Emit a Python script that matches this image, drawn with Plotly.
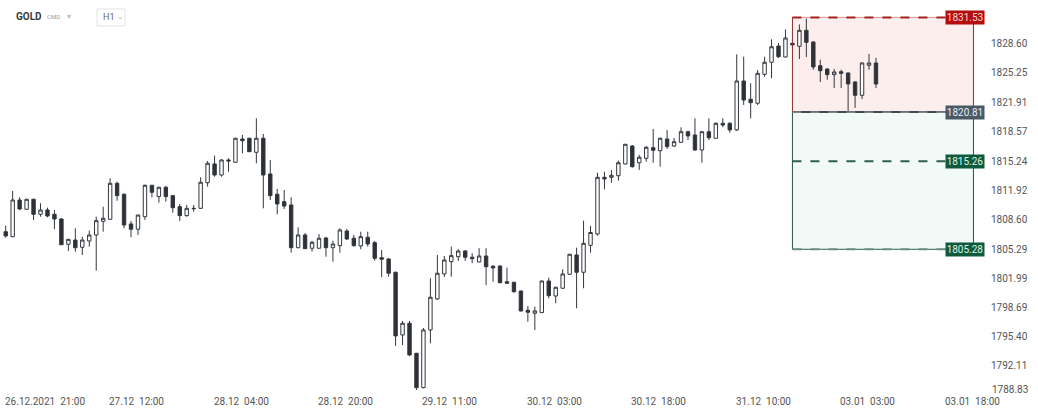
import plotly.graph_objects as go

# ---- data (GOLD, H1) ----
open_ = [1807.27,1806.71,1810.86,1809.81,1810.94,1809.24,1809.73,1809.24,1808.71,1805.85,
         1806.33,1805.51,1806.22,1806.90,1808.45,1808.68,1812.75,1811.51,1808.15,1807.55,
         1808.97,1812.53,1811.24,1812.30,1811.35,1810.10,1809.09,1809.92,1809.92,1812.82,
         1814.94,1813.69,1815.39,1815.13,1817.77,1817.85,1816.26,1817.85,1813.81,1811.51,
         1810.67,1810.30,1805.46,1806.90,1805.40,1805.40,1806.56,1805.46,1805.69,1807.35,
         1806.53,1805.66,1806.64,1806.03,1804.33,1804.18,1802.68,1795.58,1796.91,1793.51,
         1789.62,1796.15,1799.66,1802.49,1803.88,1804.44,1805.09,1804.38,1803.84,1804.52,
         1803.36,1803.39,1801.61,1801.55,1800.56,1798.38,1798.04,1798.11,1801.69,1799.99,
         1800.87,1802.45,1804.64,1802.68,1805.73,1807.01,1813.43,1813.43,1813.61,1814.94,
         1816.97,1815.08,1815.58,1816.78,1816.44,1817.77,1816.97,1817.39,1818.59,1818.22,
         1816.52,1818.59,1817.85,1819.54,1819.54,1818.79,1824.33,1822.26,1821.81,1825.09,
         1826.45,1828.29,1827.05,1828.60,1828.26,1830.07,1828.75,1826.06,1825.69,1825.05,
         1825.38,1825.24,1824.22,1822.71,1826.11,1826.37]
high = [1807.95,1811.88,1811.17,1810.99,1811.00,1810.49,1809.99,1809.73,1808.80,1806.45,
        1807.66,1806.71,1807.39,1808.97,1810.10,1813.32,1812.93,1811.60,1808.49,1809.20,
        1812.60,1812.56,1812.35,1812.45,1811.43,1810.41,1810.30,1810.30,1813.43,1815.28,
        1815.88,1815.47,1815.58,1817.90,1818.22,1817.90,1820.11,1818.33,1815.39,1812.11,
        1811.99,1811.17,1807.77,1807.13,1806.22,1807.01,1806.67,1806.26,1807.66,1807.58,
        1806.90,1807.27,1807.27,1806.22,1805.20,1804.30,1802.75,1797.17,1797.17,1793.55,
        1796.37,1802.00,1804.64,1804.52,1805.58,1805.28,1805.20,1804.83,1805.40,1805.40,
        1803.50,1803.45,1803.20,1801.60,1800.60,1798.86,1798.79,1801.75,1802.07,1801.05,
        1803.02,1804.75,1805.46,1808.52,1807.92,1813.95,1814.07,1814.26,1815.31,1817.20,
        1817.09,1815.96,1816.97,1818.90,1817.92,1818.79,1817.88,1819.09,1818.70,1820.11,
        1818.67,1820.11,1819.66,1820.11,1819.66,1827.35,1827.08,1824.07,1825.58,1827.08,
        1829.05,1828.63,1830.16,1828.63,1830.73,1831.40,1828.80,1826.74,1825.75,1825.69,
        1825.61,1825.30,1824.30,1826.45,1827.39,1826.94]
low = [1806.60,1806.65,1809.73,1809.75,1808.60,1808.97,1808.90,1807.58,1805.75,1805.09,
       1805.01,1804.64,1805.58,1802.86,1807.27,1808.60,1810.78,1807.66,1806.64,1806.90,
       1808.60,1811.17,1810.56,1810.67,1809.42,1808.49,1808.97,1809.54,1809.85,1812.37,
       1813.50,1813.50,1814.07,1815.08,1816.15,1816.30,1815.02,1809.92,1810.86,1809.24,
       1809.84,1804.90,1805.40,1805.31,1805.01,1805.35,1804.44,1803.88,1804.90,1806.33,
       1805.58,1805.28,1805.58,1803.99,1802.11,1802.18,1794.34,1794.45,1793.20,1789.36,
       1789.55,1794.64,1799.55,1802.15,1802.18,1803.96,1803.96,1803.70,1803.81,1801.24,
       1801.61,1801.43,1801.40,1800.36,1798.22,1797.09,1796.15,1798.07,1799.74,1799.17,
       1800.80,1802.40,1798.60,1800.87,1804.90,1806.82,1812.07,1812.82,1813.05,1814.90,
       1814.52,1814.26,1815.20,1815.08,1814.63,1816.64,1816.86,1817.35,1817.65,1816.45,
       1815.08,1817.65,1817.80,1819.09,1818.48,1818.67,1821.62,1820.11,1821.62,1824.82,
       1824.64,1826.94,1827.00,1828.30,1826.82,1827.05,1825.61,1824.22,1824.48,1823.54,
       1823.54,1820.81,1821.28,1822.29,1825.61,1823.54]
close = [1806.79,1810.86,1809.84,1810.94,1809.24,1809.73,1809.05,1808.71,1805.80,1806.41,
         1805.46,1806.33,1806.90,1808.52,1808.79,1812.75,1811.35,1808.03,1807.55,1809.16,
         1812.53,1811.73,1812.30,1811.24,1809.99,1809.09,1809.92,1809.88,1812.87,1815.02,
         1813.69,1815.39,1815.28,1817.85,1817.57,1816.33,1817.85,1813.69,1811.35,1810.41,
         1810.18,1805.46,1806.90,1805.35,1806.07,1806.53,1805.46,1805.88,1807.47,1806.45,
         1805.69,1806.71,1805.88,1804.26,1804.15,1802.57,1795.47,1796.91,1793.32,1789.62,
         1796.15,1799.85,1802.57,1804.07,1804.56,1805.09,1804.38,1804.22,1804.52,1803.31,
         1803.17,1801.50,1801.43,1800.48,1798.30,1798.15,1798.30,1801.69,1800.03,1800.98,
         1802.49,1804.72,1802.68,1805.96,1807.18,1813.43,1813.24,1813.66,1815.08,1817.17,
         1814.63,1815.70,1816.83,1816.49,1817.85,1816.90,1817.46,1818.59,1818.11,1816.52,
         1818.59,1817.91,1819.54,1819.35,1818.79,1824.33,1822.18,1821.88,1825.20,1826.45,
         1828.21,1827.08,1829.20,1828.41,1830.07,1828.71,1825.92,1825.50,1825.05,1825.35,
         1825.20,1823.99,1822.71,1826.37,1826.37,1823.99]

x_tick_idx = [0, 15, 30, 45, 60, 75, 90, 105, 120, 135]
x_tick_text = ["26.12.2021  21:00", "27.12  12:00", "28.12  04:00", "28.12  20:00",
               "29.12  11:00", "30.12  03:00", "30.12  18:00", "31.12  10:00",
               "03.01  03:00", "03.01  18:00"]
y_ticks = [1828.60, 1825.25, 1821.91, 1818.57, 1815.24, 1811.92, 1808.60, 1805.29,
           1801.99, 1798.69, 1795.40, 1792.11]
y_bottom_label = "1788.83"   # drawn lifted above the time axis, as in the source

# trade levels (take profit / entry / stops)
lvl_top = 1831.53
lvl_entry = 1820.81
lvl_mid = 1815.26
lvl_bottom = 1805.28
zone_start, zone_end = 113, 139

idx = list(range(len(open_)))

FONT = "Roboto, 'Open Sans', Arial, sans-serif"
fig = go.Figure()
fig.add_trace(go.Candlestick(
    x=idx, open=open_, high=high, low=low, close=close,
    increasing=dict(line=dict(color="#33373d", width=1), fillcolor="#ffffff"),
    decreasing=dict(line=dict(color="#33373d", width=1), fillcolor="#2d3035"),
    whiskerwidth=0, showlegend=False, hoverinfo="skip",
))

W_PLOT = 985.0
H_PLOT = 400.0
shapes = []
# zones
shapes.append(dict(type="rect", xref="x", yref="y", x0=zone_start, x1=zone_end,
                   y0=lvl_entry, y1=lvl_top, fillcolor="rgba(235,70,70,0.09)",
                   line=dict(width=0), layer="below"))
shapes.append(dict(type="rect", xref="x", yref="y", x0=zone_start, x1=zone_end,
                   y0=lvl_bottom, y1=lvl_entry, fillcolor="rgba(60,180,130,0.07)",
                   line=dict(width=0), layer="below"))
# borders
for xv in (zone_start, zone_end):
    shapes.append(dict(type="line", xref="x", yref="y", x0=xv, x1=xv, y0=lvl_entry, y1=lvl_top,
                       line=dict(color="#8e2a2a", width=1)))
    shapes.append(dict(type="line", xref="x", yref="y", x0=xv, x1=xv, y0=lvl_bottom, y1=lvl_entry,
                       line=dict(color="#24503f", width=1)))
# horizontal levels
shapes.append(dict(type="line", xref="x", yref="y", x0=zone_start, x1=zone_end, y0=lvl_top, y1=lvl_top,
                   line=dict(color="rgba(200,80,80,0.6)", width=1)))
shapes.append(dict(type="line", xref="x", yref="y", x0=zone_start, x1=zone_end, y0=lvl_top, y1=lvl_top,
                   line=dict(color="#a82020", width=2, dash="dash")))
shapes.append(dict(type="line", xref="x", yref="y", x0=zone_start, x1=zone_end, y0=lvl_entry, y1=lvl_entry,
                   line=dict(color="#3e4a55", width=2)))
shapes.append(dict(type="line", xref="x", yref="y", x0=zone_start, x1=zone_end, y0=lvl_entry, y1=lvl_entry,
                   line=dict(color="rgba(190,185,175,0.9)", width=1, dash="dash")))
shapes.append(dict(type="line", xref="x", yref="y", x0=zone_start, x1=zone_end, y0=lvl_mid, y1=lvl_mid,
                   line=dict(color="#2f5f4b", width=2, dash="dash")))
shapes.append(dict(type="line", xref="x", yref="y", x0=zone_start, x1=zone_end, y0=lvl_bottom, y1=lvl_bottom,
                   line=dict(color="#2f5f4b", width=1)))
shapes.append(dict(type="line", xref="x", yref="y", x0=zone_start, x1=zone_end, y0=lvl_bottom, y1=lvl_bottom,
                   line=dict(color="#6a917f", width=2, dash="dash")))
# H1 selector box (header)
shapes.append(dict(type="rect", xref="paper", yref="paper", x0=97 / W_PLOT, x1=125 / W_PLOT,
                   y0=1 - 26 / H_PLOT, y1=1 - 9 / H_PLOT, line=dict(color="#e3e3e3", width=1),
                   fillcolor="#ffffff"))

annotations = []
# level tags
tag_x = 964.5 / W_PLOT
for val, bg, fc in [(lvl_top, "#b50d0d", "#ffd9d9"), (lvl_entry, "#4b5866", "#e8eef3"),
                    (lvl_mid, "#0f5a3c", "#d9f5e8"), (lvl_bottom, "#0f5a3c", "#d9f5e8")]:
    annotations.append(dict(xref="paper", yref="y", x=tag_x, y=val, text=f"{val:.2f}",
                            showarrow=False, bgcolor=bg, borderpad=1, width=36, height=11,
                            font=dict(family=FONT, size=10, color=fc),
                            xanchor="center", yanchor="middle"))
# x labels (left aligned at candle)
for i, t in zip(x_tick_idx, x_tick_text):
    annotations.append(dict(xref="x", yref="paper", x=i, y=1 - 402 / H_PLOT,
                            text=t.replace("  ", "&nbsp;&nbsp;"),
                            showarrow=False, xanchor="left", yanchor="middle", xshift=-3,
                            font=dict(family=FONT, size=10, color="#555555")))
# bottom price label
annotations.append(dict(xref="paper", yref="paper", x=990 / W_PLOT, y=1 - 389 / H_PLOT,
                        text=y_bottom_label, showarrow=False, xanchor="left", yanchor="middle",
                        font=dict(family=FONT, size=10, color="#555555")))
# header
annotations.append(dict(xref="paper", yref="paper", x=14 / W_PLOT, y=1 - 17 / H_PLOT, text="<b>GOLD</b>",
                        showarrow=False, xanchor="left", yanchor="middle",
                        font=dict(family=FONT, size=10, color="#3a3a3a")))
annotations.append(dict(xref="paper", yref="paper", x=45 / W_PLOT, y=1 - 17 / H_PLOT, text="CMD",
                        showarrow=False, xanchor="left", yanchor="middle",
                        font=dict(family=FONT, size=6, color="#9a9a9a")))
annotations.append(dict(xref="paper", yref="paper", x=65 / W_PLOT, y=1 - 16 / H_PLOT, text="▾",
                        showarrow=False, xanchor="left", yanchor="middle",
                        font=dict(family=FONT, size=8, color="#bbbbbb")))
annotations.append(dict(xref="paper", yref="paper", x=101 / W_PLOT, y=1 - 17 / H_PLOT, text="H1",
                        showarrow=False, xanchor="left", yanchor="middle",
                        font=dict(family=FONT, size=9, color="#666666")))
annotations.append(dict(xref="paper", yref="paper", x=115 / W_PLOT, y=1 - 17 / H_PLOT, text="⌄",
                        showarrow=False, xanchor="left", yanchor="middle",
                        font=dict(family=FONT, size=8, color="#bbbbbb")))

fig.update_layout(
    width=1038, height=415,
    margin=dict(l=0, r=53, t=0, b=15),
    paper_bgcolor="#ffffff", plot_bgcolor="#ffffff",
    shapes=shapes, annotations=annotations,
    font=dict(family=FONT),
    xaxis=dict(range=[-0.82, 140.66], showgrid=False, zeroline=False, showticklabels=False,
               rangeslider=dict(visible=False), showline=False, fixedrange=True),
    yaxis=dict(range=[1788.22, 1833.50], side="right", tickmode="array", tickvals=y_ticks,
               ticktext=[f"{v:.2f}" for v in y_ticks], showgrid=False, zeroline=False,
               showline=False, ticks="", ticklabelstandoff=5, automargin=False,
               tickfont=dict(family=FONT, size=10, color="#555555")),
)

fig.write_html("out.html", config={"displayModeBar": False},
               post_script="document.body.style.margin='0';document.body.style.overflow='hidden';")
